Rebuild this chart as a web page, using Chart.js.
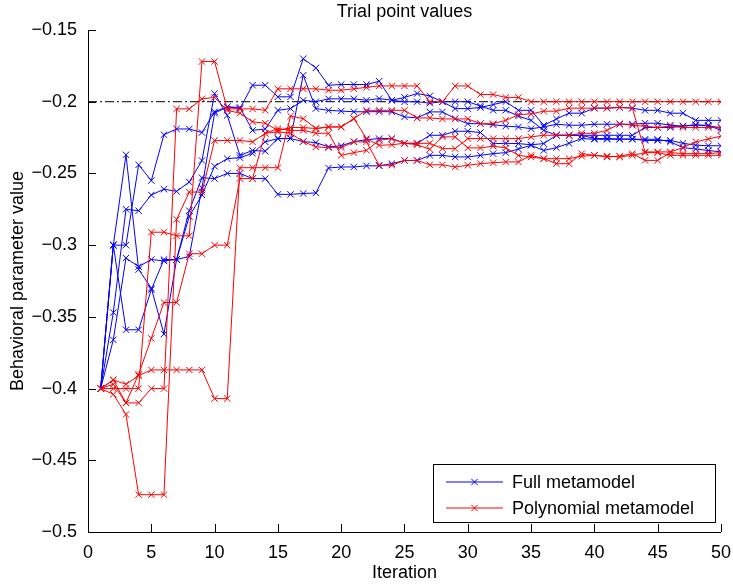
<!DOCTYPE html>
<html>
<head>
<meta charset="utf-8">
<script src="https://cdn.jsdelivr.net/npm/chart.js@4.4.0/dist/chart.umd.min.js"></script>
<style>
  html, body { margin: 0; padding: 0; background: #fff; }
</style>
</head>
<body>
<canvas id="grafico" width="733" height="588"></canvas>
<script>
// Iterações (eixo x)
const iteracoes = [1,2,3,4,5,6,7,8,9,10,11,12,13,14,15,16,17,18,19,20,21,22,23,24,25,26,27,28,29,30,31,32,33,34,35,36,37,38,39,40,41,42,43,44,45,46,47,48,49,50];

// Full metamodel (azul)
const full1 = [-0.4,-0.3,-0.237,-0.317,-0.33,-0.362,-0.31,-0.276,-0.253,-0.2536,
  -0.25,-0.25,-0.2536,-0.2536,-0.2646,-0.2646,-0.264,-0.2636,-0.2462,-0.2455,
  -0.2455,-0.2447,-0.2447,-0.2432,-0.241,-0.241,-0.2374,-0.2374,-0.2385,-0.2385,
  -0.2374,-0.2362,-0.2355,-0.233,-0.2304,-0.234,-0.232,-0.229,-0.2257,-0.2262,
  -0.2262,-0.2262,-0.226,-0.227,-0.227,-0.227,-0.229,-0.2303,-0.2307,-0.2307];
const full2 = [-0.4,-0.3,-0.3,-0.244,-0.255,-0.223,-0.219,-0.219,-0.2215,-0.207,
  -0.2036,-0.2048,-0.1885,-0.1885,-0.1966,-0.1966,-0.17,-0.1764,-0.1885,-0.188,
  -0.188,-0.188,-0.1857,-0.199,-0.197,-0.1943,-0.196,-0.2,-0.2048,-0.2048,
  -0.204,-0.202,-0.2,-0.206,-0.206,-0.2164,-0.212,-0.208,-0.208,-0.2045,
  -0.2045,-0.204,-0.2045,-0.206,-0.206,-0.208,-0.208,-0.213,-0.213,-0.213];
const full3 = [-0.4,-0.347,-0.275,-0.276,-0.265,-0.261,-0.2625,-0.256,-0.241,-0.1943,
  -0.2095,-0.2374,-0.234,-0.2345,-0.2257,-0.2257,-0.1815,-0.2048,-0.206,-0.2065,
  -0.207,-0.207,-0.2069,-0.207,-0.2106,-0.2113,-0.2071,-0.2071,-0.2118,-0.2153,
  -0.2153,-0.216,-0.217,-0.2176,-0.2188,-0.2176,-0.2157,-0.2164,-0.2164,-0.2157,
  -0.2157,-0.2157,-0.2157,-0.215,-0.215,-0.2164,-0.217,-0.2164,-0.2164,-0.22];
const full4 = [-0.4,-0.366,-0.309,-0.315,-0.31,-0.311,-0.31,-0.308,-0.26,-0.208,
  -0.2036,-0.204,-0.22,-0.219,-0.206,-0.2048,-0.199,-0.2,-0.198,-0.198,
  -0.198,-0.199,-0.1978,-0.199,-0.2001,-0.2,-0.201,-0.2,-0.2,-0.2,
  -0.203,-0.206,-0.206,-0.21,-0.213,-0.22,-0.2234,-0.2234,-0.2234,-0.2234,
  -0.2234,-0.2234,-0.2234,-0.218,-0.218,-0.218,-0.217,-0.216,-0.217,-0.218];
const full5 = [-0.4,-0.3,-0.359,-0.359,-0.331,-0.31,-0.31,-0.28,-0.265,-0.245,
  -0.2397,-0.239,-0.236,-0.228,-0.2257,-0.2257,-0.2278,-0.2285,-0.2315,-0.2307,
  -0.2278,-0.2265,-0.2257,-0.2257,-0.229,-0.229,-0.2234,-0.2234,-0.2206,-0.2206,
  -0.2215,-0.2292,-0.229,-0.2292,-0.23,-0.2292,-0.2234,-0.2234,-0.2234,-0.2257,
  -0.2257,-0.226,-0.2262,-0.2262,-0.2262,-0.228,-0.232,-0.233,-0.234,-0.235];

// Polynomial metamodel (vermelho)
const poly1 = [-0.4,-0.394,-0.397,-0.391,-0.387,-0.387,-0.387,-0.387,-0.387,-0.407,
  -0.407,-0.246,-0.246,-0.246,-0.246,-0.21,-0.2118,-0.2187,-0.2176,-0.2176,
  -0.2118,-0.206,-0.206,-0.206,-0.206,-0.2113,-0.2113,-0.212,-0.212,-0.212,
  -0.2153,-0.2153,-0.213,-0.209,-0.2085,-0.2066,-0.2066,-0.2045,-0.2045,-0.2045,
  -0.2045,-0.204,-0.2045,-0.235,-0.235,-0.235,-0.232,-0.228,-0.226,-0.224];
const poly2 = [-0.4,-0.404,-0.418,-0.474,-0.474,-0.474,-0.282,-0.263,-0.263,-0.227,
  -0.227,-0.227,-0.228,-0.222,-0.2187,-0.22,-0.22,-0.222,-0.222,-0.2374,
  -0.2355,-0.2339,-0.2269,-0.2257,-0.229,-0.229,-0.229,-0.2327,-0.2327,-0.2257,
  -0.2257,-0.2257,-0.2257,-0.2257,-0.2245,-0.2234,-0.2234,-0.2234,-0.222,-0.222,
  -0.22,-0.2153,-0.2165,-0.217,-0.218,-0.217,-0.218,-0.218,-0.218,-0.218];
const poly3 = [-0.4,-0.4,-0.4,-0.4,-0.291,-0.291,-0.2935,-0.2935,-0.172,-0.172,
  -0.205,-0.205,-0.205,-0.206,-0.191,-0.191,-0.191,-0.191,-0.192,-0.192,
  -0.191,-0.19,-0.189,-0.189,-0.189,-0.189,-0.2,-0.2,-0.189,-0.189,
  -0.195,-0.195,-0.197,-0.197,-0.2,-0.2,-0.2,-0.2,-0.2,-0.2,
  -0.2,-0.2,-0.2,-0.2,-0.2,-0.2,-0.2,-0.2,-0.2,-0.2];
const poly4 = [-0.4,-0.397,-0.41,-0.39,-0.365,-0.34,-0.34,-0.306,-0.306,-0.3,
  -0.3,-0.2536,-0.2536,-0.222,-0.221,-0.222,-0.2278,-0.2315,-0.232,-0.232,
  -0.228,-0.228,-0.2443,-0.2443,-0.2409,-0.2409,-0.244,-0.244,-0.2455,-0.2443,
  -0.2432,-0.2425,-0.242,-0.242,-0.2374,-0.2397,-0.2432,-0.2432,-0.2362,-0.2374,
  -0.2385,-0.238,-0.2362,-0.2409,-0.2409,-0.2355,-0.2362,-0.2362,-0.2362,-0.2355];
const poly5 = [-0.4,-0.394,-0.41,-0.41,-0.4,-0.4,-0.205,-0.205,-0.198,-0.197,
  -0.206,-0.208,-0.214,-0.215,-0.22,-0.218,-0.218,-0.2187,-0.2176,-0.2176,
  -0.2118,-0.2257,-0.2304,-0.23,-0.229,-0.23,-0.2332,-0.2245,-0.2245,-0.2322,
  -0.2322,-0.231,-0.2322,-0.2374,-0.2385,-0.2397,-0.2397,-0.2397,-0.238,-0.2374,
  -0.238,-0.2385,-0.2374,-0.2355,-0.2355,-0.2374,-0.2374,-0.2374,-0.2374,-0.2374];

// Linha de referência tracejada
const refX = [0, 50];
const refY = [-0.2, -0.2];

const legendas = ['Full metamodel', 'Polynomial metamodel'];
const corAzul = '#0000ff', corVermelho = '#ff0000';
const fonte = { family: "'Liberation Sans', Arial, Helvetica, sans-serif", size: 18 };
const fonteCss = "18px 'Liberation Sans', Arial, Helvetica, sans-serif";

function serie(valores, cor, grupo) {
  return {
    label: legendas[grupo],
    data: valores.map((v, i) => ({ x: iteracoes[i], y: v })),
    borderColor: cor, backgroundColor: cor,
    borderWidth: 1, pointStyle: 'crossRot', pointRadius: 4.5,
    pointBorderWidth: 1, pointBorderColor: cor, fill: false, tension: 0
  };
}

// Traços para dentro, estilo MATLAB
const ticksInternos = {
  id: 'ticksInternos',
  afterDraw(chart) {
    const { ctx, chartArea, scales } = chart;
    ctx.save();
    ctx.strokeStyle = '#000'; ctx.lineWidth = 1;
    ctx.beginPath();
    scales.x.ticks.forEach(t => {
      const px = Math.round(scales.x.getPixelForValue(t.value)) + 0.5;
      ctx.moveTo(px, chartArea.bottom); ctx.lineTo(px, chartArea.bottom - 8);
    });
    scales.y.ticks.forEach(t => {
      const py = Math.round(scales.y.getPixelForValue(t.value)) + 0.5;
      ctx.moveTo(chartArea.left, py); ctx.lineTo(chartArea.left + 8, py);
    });
    ctx.stroke();
    // título centrado na área do gráfico
    ctx.fillStyle = '#000'; ctx.font = fonteCss;
    ctx.textAlign = 'center'; ctx.textBaseline = 'middle';
    ctx.fillText('Trial point values', (chartArea.left + chartArea.right) / 2, 12);
    ctx.restore();
  }
};

// Legenda dentro do gráfico, canto inferior direito
const legendaInterna = {
  id: 'legendaInterna',
  afterDraw(chart) {
    const { ctx } = chart;
    const x0 = 433, y0 = 464, w = 282, h = 58;
    ctx.save();
    ctx.fillStyle = '#fff'; ctx.fillRect(x0, y0, w, h);
    ctx.strokeStyle = '#000'; ctx.lineWidth = 1;
    ctx.strokeRect(x0 + 0.5, y0 + 0.5, w, h);
    [corAzul, corVermelho].forEach((cor, i) => {
      const y = y0 + 18 + i * 26;
      ctx.strokeStyle = cor; ctx.lineWidth = 1;
      ctx.beginPath(); ctx.moveTo(446, y); ctx.lineTo(503, y); ctx.stroke();
      Chart.helpers.drawPoint(ctx, { pointStyle: 'crossRot', radius: 4.5, borderWidth: 1 }, 474.5, y);
      ctx.fillStyle = '#000'; ctx.font = fonteCss;
      ctx.textAlign = 'left'; ctx.textBaseline = 'middle';
      ctx.fillText(legendas[i], 512, y + 1);
    });
    ctx.restore();
  }
};

const formatar = v => (Math.round(v * 100) / 100).toString().replace('-', '\u2212');

new Chart(document.getElementById('grafico').getContext('2d'), {
  type: 'line',
  data: {
    datasets: [
      serie(poly1, corVermelho, 1), serie(poly2, corVermelho, 1), serie(poly3, corVermelho, 1),
      serie(poly4, corVermelho, 1), serie(poly5, corVermelho, 1),
      serie(full1, corAzul, 0), serie(full2, corAzul, 0), serie(full3, corAzul, 0),
      serie(full4, corAzul, 0), serie(full5, corAzul, 0),
      {
        label: 'ref',
        data: refX.map((x, i) => ({ x, y: refY[i] })),
        borderColor: '#000', borderWidth: 1, borderDash: [9, 3, 2, 3],
        pointRadius: 0, fill: false
      }
    ]
  },
  options: {
    responsive: false,
    animation: false,
    layout: { padding: { top: 30, right: 11, left: 0, bottom: 0 } },
    plugins: { legend: { display: false }, tooltip: { enabled: false }, title: { display: false } },
    scales: {
      x: {
        type: 'linear', min: 0, max: 50,
        ticks: { stepSize: 5, color: '#000', font: fonte, padding: 2, maxRotation: 0 },
        grid: { display: false },
        border: { display: true, color: '#000', width: 1 },
        title: { display: true, text: 'Iteration', color: '#000', font: fonte, padding: { top: 0, bottom: 4 } },
        afterFit: s => { s.height = 56; }
      },
      y: {
        min: -0.5, max: -0.15,
        ticks: { stepSize: 0.05, color: '#000', font: fonte, padding: 3, callback: formatar },
        grid: { display: false },
        border: { display: true, color: '#000', width: 1 },
        title: { display: true, text: 'Behavioral parameter value', color: '#000', font: fonte, padding: { top: 7, bottom: 0 } },
        afterFit: s => { s.width = 88; }
      }
    }
  },
  plugins: [ticksInternos, legendaInterna]
});
</script>
</body>
</html>
